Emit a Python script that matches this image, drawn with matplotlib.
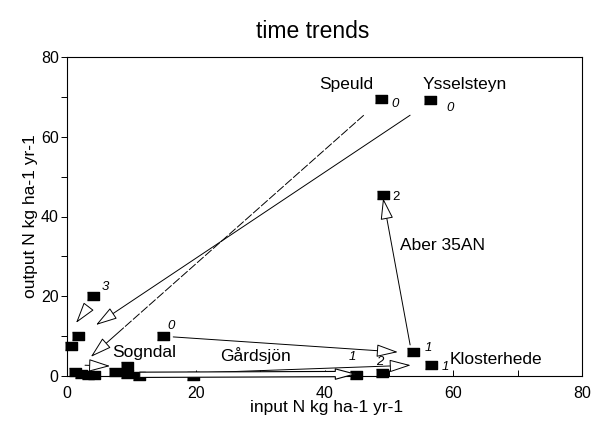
import numpy as np
import matplotlib
matplotlib.use("Agg")
import matplotlib.pyplot as plt

plt.rcParams['font.family'] = ['Liberation Sans', 'DejaVu Sans']

# points (input N, output N), kg ha-1 yr-1
pts_x = [48.8, 56.4, 49.1, 53.7, 56.5, 44.9, 49.0, 14.9, 19.6, 4.0, 1.7, 0.6,
         1.2, 2.2, 3.2, 4.2, 7.5, 9.3, 9.3, 11.2]
pts_y = [69.4, 69.3, 45.4, 6.0, 2.7, 0.3, 0.7, 10.0, 0.0, 20.0, 10.0, 7.5,
         1.0, 0.5, 0.3, 0.2, 1.0, 2.5, 0.5, 0.0]

# site names
site_names = ['Speuld', 'Ysselsteyn', 'Aber 35AN', 'Klosterhede', 'Sogndal', 'Gårdsjön']
site_x = [47.6, 55.3, 51.7, 59.5, 7.0, 23.8]
site_y = [71.9, 71.9, 31.6, 3.0, 4.8, 3.8]
site_ha = ['right', 'left', 'left', 'left', 'left', 'left']

# small year numbers
num_txt = ['0', '0', '2', '1', '1', '1', '2', '3', '0']
num_x = [50.9, 59.5, 51.1, 56.1, 58.7, 44.3, 48.6, 5.9, 16.1]
num_y = [68.2, 67.2, 44.9, 7.0, 2.3, 4.8, 3.5, 22.3, 12.5]
num_italic = [True, True, False, True, True, True, True, True, True]

# arrows: start -> end
arr_x0 = [46.1, 53.3, 3.3, 2.8, 16.5, 20.5, 53.3]
arr_y0 = [65.4, 65.4, 17.3, 2.7, 9.8, 0.8, 7.8]
arr_x1 = [3.7, 4.5, 1.4, 6.7, 51.4, 53.4, 49.1]
arr_y1 = [4.8, 12.8, 13.3, 2.5, 6.0, 2.7, 44.6]
arr_dashed = [True, False, False, False, False, False, False]

# hollow-shaft arrow (Gårdsjön, bottom)
big_x0, big_y0 = 11.3, 0.3
big_x1, big_y1 = 44.7, 0.5

fig = plt.figure(figsize=(5.91, 4.22), dpi=100)
ax = fig.add_axes([67/591, 1-376/422, 515/591, 319/422])

rect = [(-1, -0.7), (1, -0.7), (1, 0.7), (-1, 0.7)]
ax.plot(pts_x, pts_y, linestyle='none', marker=rect, markersize=8,
        color='black', clip_on=False, zorder=3)

head = '-|>,head_length=1.35,head_width=0.4'
for x0, y0, x1, y1, d in zip(arr_x0, arr_y0, arr_x1, arr_y1, arr_dashed):
    if d:
        # dashed shaft, solid head
        xm = x1 + (x0 - x1) * 0.12
        ym = y1 + (y0 - y1) * 0.12
        ax.plot([x0, xm], [y0, ym], color='black', lw=0.7, dashes=(9, 2))
        ax.annotate('', xy=(x1, y1), xytext=(xm, ym),
                    arrowprops=dict(arrowstyle=head, fc='white', ec='black',
                                    lw=0.7, mutation_scale=10, shrinkA=0, shrinkB=0))
    else:
        ax.annotate('', xy=(x1, y1), xytext=(x0, y0),
                    arrowprops=dict(arrowstyle=head, fc='white', ec='black',
                                    lw=0.7, mutation_scale=10, shrinkA=0, shrinkB=0))

ax.annotate('', xy=(big_x1, big_y1), xytext=(big_x0, big_y0),
            arrowprops=dict(arrowstyle='simple,head_length=1.4,head_width=0.75,tail_width=0.38',
                            fc='white', ec='black', lw=0.8, mutation_scale=10,
                            shrinkA=0, shrinkB=0), annotation_clip=False)

for s, x, y, ha in zip(site_names, site_x, site_y, site_ha):
    ax.text(x, y, s, ha=ha, va='baseline', fontsize=12.5)

for s, x, y, it in zip(num_txt, num_x, num_y, num_italic):
    ax.text(x, y, s, ha='center', va='center', fontsize=9.5,
            style='italic' if it else 'normal')

ax.set_xlim(0, 80)
ax.set_ylim(0, 80)
ax.set_xticks([0, 20, 40, 60, 80])
ax.set_yticks([0, 20, 40, 60, 80])
ax.set_xticks([10, 30, 50, 70], minor=True)
ax.set_yticks([10, 30, 50, 70], minor=True)
ax.tick_params(axis='x', which='both', direction='in', length=4, width=0.7,
               pad=7, labelsize=11.5)
ax.tick_params(axis='y', which='both', direction='out', length=4, width=0.7,
               pad=2, labelsize=11.5)
for sp in ax.spines.values():
    sp.set_linewidth(0.8)

ax.set_xlabel('input N kg ha-1 yr-1', fontsize=12.5)
ax.set_ylabel('output N kg ha-1 yr-1', fontsize=12.5)
ax.xaxis.set_label_coords(0.504, -0.075)
ax.yaxis.set_label_coords(-0.056, 0.5)

fig.text(313/591, 1-31.5/422, 'time trends', ha='center', va='center', fontsize=16.5)

fig.savefig('out.png', dpi=100)
